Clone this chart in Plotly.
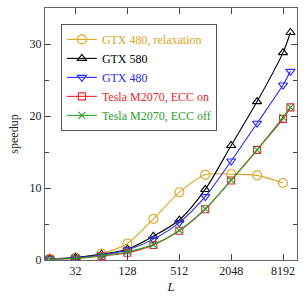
import plotly.graph_objects as go

L_relax = [16, 32, 64, 128, 256, 512, 1024, 2048, 4096, 8192]
relax = [0.15, 0.35, 0.9, 2.3, 5.7, 9.4, 11.85, 11.9, 11.75, 10.7]

L_all = [16, 32, 64, 128, 256, 512, 1024, 2048, 4096, 8192, 10000]
gtx580 = [0.15, 0.35, 0.8, 1.5, 3.3, 5.55, 9.8, 15.9, 22.0, 28.8, 31.6]
gtx480 = [0.15, 0.3, 0.7, 1.4, 2.9, 5.2, 8.8, 13.75, 19.0, 24.3, 26.2]
ecc_on = [0.1, 0.2, 0.55, 1.0, 2.08, 4.07, 7.05, 11.05, 15.3, 19.6, 21.2]
ecc_off = [0.12, 0.25, 0.6, 1.15, 2.15, 4.1, 7.1, 11.1, 15.3, 19.8, 21.2]

x_ticks = [32, 128, 512, 2048, 8192]
y_ticks = [0, 10, 20, 30]

series = [
    ("GTX 480, relaxation", L_relax, relax, "#DAA520", "circle-open", 9),
    ("GTX 580", L_all, gtx580, "#000000", "triangle-up-open", 8),
    ("GTX 480", L_all, gtx480, "#2a2ae6", "triangle-down-open", 8),
    ("Tesla M2070, ECC on", L_all, ecc_on, "#e8262c", "square-open", 7),
    ("Tesla M2070, ECC off", L_all, ecc_off, "#2ca02c", "x-thin-open", 7),
]

SERIF = "Liberation Serif, Times New Roman, serif"

fig = go.Figure()
for name, xs, ys, col, sym, sz in series:
    fig.add_trace(go.Scatter(
        x=xs, y=ys, name=f'<span style="color:{col}">{name}</span>',
        mode="lines+markers",
        line=dict(color=col, width=1.1, shape="spline", smoothing=0.8),
        marker=dict(symbol=sym, size=sz, color=col, line=dict(color=col, width=1.1)),
    ))

fig.update_layout(
    width=308, height=302,
    margin=dict(l=45, r=11, t=8, b=42),
    paper_bgcolor="white", plot_bgcolor="white",
    font=dict(family=SERIF, size=12, color="#222"),
    showlegend=True,
    legend=dict(
        x=0.063, y=0.937, xanchor="left", yanchor="top",
        bordercolor="#555", borderwidth=1, bgcolor="white",
        font=dict(family=SERIF, size=12),
        tracegroupgap=0, itemwidth=30,
    ),
)

fig.update_xaxes(
    type="log", range=[1.150, 4.076],
    tickvals=x_ticks, ticktext=[str(v) for v in x_ticks],
    ticks="inside", ticklen=6, tickcolor="#444",
    showline=True, linecolor="#666", mirror="ticks", showgrid=False, zeroline=False,
    title=dict(text="<i>L</i>", standoff=4, font=dict(family=SERIF, size=13)),
)
fig.update_yaxes(
    range=[0, 35], tickvals=y_ticks,
    ticks="inside", ticklen=6, tickcolor="#444",
    minor=dict(tickvals=[5, 15, 25], ticks="inside", ticklen=4, tickcolor="#444"),
    showline=True, linecolor="#666", mirror="ticks", showgrid=False, zeroline=False,
    title=dict(text="speedup", standoff=8, font=dict(family=SERIF, size=12)),
)

fig.write_html("out.html", config={"displayModeBar": False},
               post_script="document.body.style.margin='0';")
